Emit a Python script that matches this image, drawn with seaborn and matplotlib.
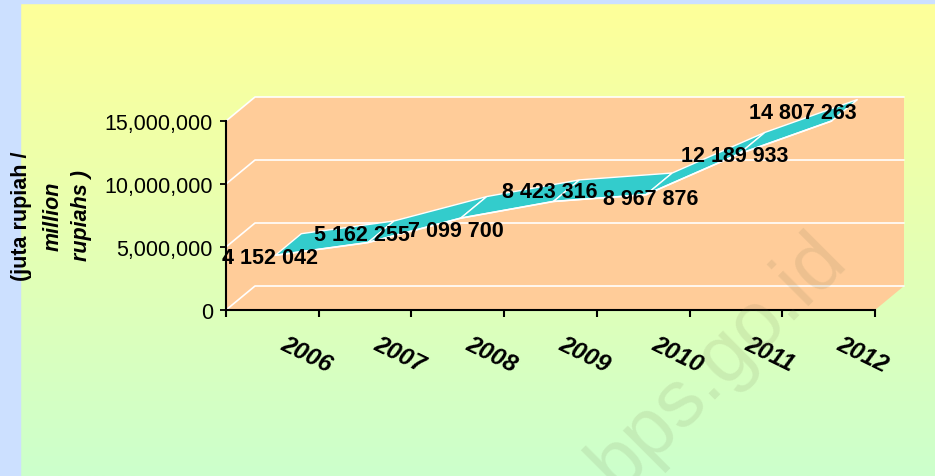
import numpy as np
import matplotlib
matplotlib.use('Agg')
import matplotlib.pyplot as plt
import seaborn as sns
from matplotlib.patches import Polygon, Rectangle

# ---------------- data ----------------
years = ['2006', '2007', '2008', '2009', '2010', '2011', '2012']
values = [4152042, 5162255, 7099700, 8423316, 8967876, 12189933, 14807263]
value_labels = ['4 152 042', '5 162 255', '7 099 700', '8 423 316',
                '8 967 876', '12 189 933', '14 807 263']
y_ticks = [0, 5000000, 10000000, 15000000]
y_tick_labels = ['0', '5,000,000', '10,000,000', '15,000,000']
y_label_lines = ['(juta rupiah /', 'million', 'rupiahs )']
watermark = 'bps.go.id'

# ---------------- style ----------------
sns.set_theme(style='white')
plt.rcParams['font.family'] = ['Liberation Sans', 'DejaVu Sans']

W, H = 935, 477
fig = plt.figure(figsize=(W / 100, H / 100), dpi=100)

# background gradient (yellow -> light green) and blue frame strips
bg = fig.add_axes([0, 0, 1, 1], zorder=-10)
top_c = np.array([255, 255, 153]) / 255
bot_c = np.array([204, 255, 204]) / 255
t = np.linspace(0, 1, 256)[:, None]
grad = top_c * (1 - t) + bot_c * t
bg.imshow(grad[:, None, :], extent=[0, 1, 0, 1], aspect='auto', origin='upper')
bg.add_patch(Rectangle((0, 0), 20 / W, 1, color='#CCE0FF', transform=bg.transAxes))
bg.add_patch(Rectangle((0, 1 - 4 / H), 1, 4 / H, color='#CCE0FF', transform=bg.transAxes))
bg.set_xlim(0, 1)
bg.set_ylim(0, 1)
bg.axis('off')

# ---------------- main axes ----------------
L, R, T, B = 226, 875, 122, 311
ax = fig.add_axes([L / W, 1 - B / H, (R - L) / W, (B - T) / H], zorder=1)
ax.patch.set_visible(False)
n = len(values)
ymax = y_ticks[-1]

# depth offset of the 3-D box, in data units (29 px right, 24 px up)
ddx = 29 / ((R - L) / n)
ddy = 24 / (B - T) * ymax
x0, x1 = -0.5, n - 0.5

peach = '#FFCC99'
# back wall
ax.add_patch(Rectangle((x0 + ddx, ddy), x1 - x0, ymax, fc=peach, ec='none',
                       zorder=0.5, clip_on=False))
# left side wall
ax.add_patch(Polygon([(x0, 0), (x0, ymax), (x0 + ddx, ymax + ddy), (x0 + ddx, ddy)],
                     closed=True, fc=peach, ec='none', zorder=0.5, clip_on=False))
# floor
ax.add_patch(Polygon([(x0, 0), (x1, 0), (x1 + ddx, ddy), (x0 + ddx, ddy)],
                     closed=True, fc=peach, ec='none', zorder=0.5, clip_on=False))
# gridlines on side wall + back wall
for v in y_ticks:
    ax.plot([x0, x0 + ddx, x1 + ddx], [v, v + ddy, v + ddy], color='white',
            lw=1.2, zorder=0.8, clip_on=False)

# ---------------- ribbon (3-D line) ----------------
xs = np.arange(n)
vals = np.array(values, dtype=float)
z0, z1 = 0.1, 1.0
fx, fy = xs + z0 * ddx, vals + z0 * ddy
bx, by = xs + z1 * ddx, vals + z1 * ddy
for i in range(n - 1):
    ax.add_patch(Polygon([(fx[i], fy[i]), (fx[i + 1], fy[i + 1]),
                          (bx[i + 1], by[i + 1]), (bx[i], by[i])],
                         closed=True, fc='#33CCCC', ec='white', lw=1.0,
                         zorder=3, clip_on=False))
sns.lineplot(x=fx, y=fy, color='white', lw=1.2, ax=ax, zorder=3.5, clip_on=False)

# ---------------- axes cosmetics ----------------
ax.set_xlim(x0, x1)
ax.set_ylim(0, ymax)
ax.set_xlabel('')
ax.set_ylabel('')
ax.set_yticks(y_ticks)
ax.set_yticklabels(y_tick_labels)
ax.set_xticks(np.arange(x0, x1 + 0.01, 1))
ax.set_xticklabels([])
ax.tick_params(axis='y', left=True, direction='out', length=4, width=1.3,
               pad=5.5, labelsize=15.5, colors='black')
ax.tick_params(axis='x', bottom=True, direction='out', length=5, width=1.5,
               colors='black')
for s in ['top', 'right']:
    ax.spines[s].set_visible(False)
for s in ['left', 'bottom']:
    ax.spines[s].set_color('black')
    ax.spines[s].set_linewidth(1.5)
    ax.spines[s].set_zorder(5)

# data labels (offsets in pixels -> points)
label_off_px = [(-2, 0), (-3, 10), (-2, -10), (-1, 12), (7, -1), (-1, 1), (-26, 11)]
for i, (lab, (ox, oy)) in enumerate(zip(value_labels, label_off_px)):
    ax.annotate(lab, xy=(xs[i], vals[i]), xytext=(ox * 0.72, oy * 0.72),
                textcoords='offset points', ha='center', va='center',
                fontsize=15.5, fontweight='bold', color='black', zorder=6,
                annotation_clip=False)

# category labels (rotated)
for i, yr in enumerate(years):
    ax.annotate(yr, xy=(xs[i], 0), xytext=(34 * 0.72, -44 * 0.72),
                textcoords='offset points', ha='center', va='center',
                rotation=-26, rotation_mode='anchor', fontsize=17.5,
                fontweight='bold', fontstyle='italic', color='black',
                annotation_clip=False)

# y-axis title: three rotated lines
ylab_x = [22, 53, 81]
ylab_style = [('bold', 'normal'), ('bold', 'italic'), ('bold', 'italic')]
for txt, xpx, (fw, fs) in zip(y_label_lines, ylab_x, ylab_style):
    fig.text(xpx / W, 1 - 216 / H, txt, rotation=90, ha='center', va='center',
             fontsize=15.5, fontweight=fw, fontstyle=fs, color='black')

# watermark
fig.text(718 / W, 1 - 362 / H, watermark, rotation=45, ha='center', va='center',
         rotation_mode='anchor', fontsize=58, color=(0.45, 0.45, 0.3), alpha=0.13,
         zorder=20)

fig.savefig('out.png', dpi=100)
